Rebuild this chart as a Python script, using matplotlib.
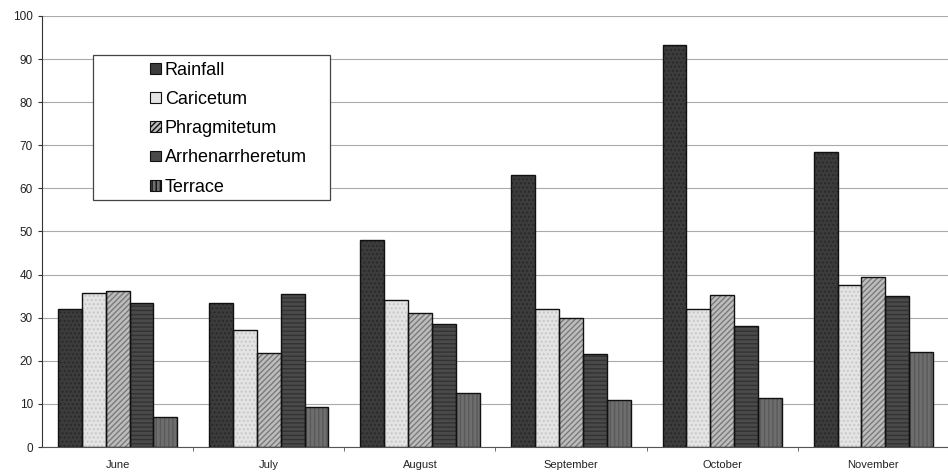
import matplotlib
matplotlib.use("Agg")
import matplotlib.pyplot as plt
from matplotlib.patches import Rectangle, Patch
import numpy as np

plt.rcParams["font.family"] = ["Liberation Sans", "DejaVu Sans"]

months = ["June", "July", "August", "September", "October", "November"]
series = ["Rainfall", "Caricetum", "Phragmitetum", "Arrhenarrheretum", "Terrace"]
rainfall = [32, 33.5, 48, 63, 93.2, 68.5]
caricetum = [35.8, 27.2, 34, 32, 32, 37.5]
phragmitetum = [36.2, 21.7, 31, 30, 35.3, 39.5]
arrhen = [33.5, 35.5, 28.5, 21.5, 28, 35]
terrace = [7, 9.3, 12.5, 10.8, 11.3, 22]
values = [rainfall, caricetum, phragmitetum, arrhen, terrace]

faces = ["#3c3c3c", "#e4e4e4", "#bdbdbd", "#4a4a4a", "#6e6e6e"]
hatches = ["....", "....", "//////", "----", "||||"]
hatch_cols = ["#2a2a2a", "#c8c8c8", "#7a7a7a", "#333333", "#5a5a5a"]

fig = plt.figure(figsize=(9.48, 4.73), dpi=100)
ax = fig.add_axes([42 / 948, 26 / 473, 910 / 948, 431 / 473])

x = np.arange(len(months))
w = 0.158
for i, (vals, fc, h, hc) in enumerate(zip(values, faces, hatches, hatch_cols)):
    pos = x + (i - 2) * w
    ax.bar(pos, vals, w, color=fc, linewidth=0, zorder=2)
    ax.bar(pos, vals, w, color="none", edgecolor=hc, hatch=h, linewidth=0, zorder=3)
    ax.bar(pos, vals, w, color="none", edgecolor="#111111", linewidth=1.0, zorder=4)

ax.set_xlim(-0.5, 5.52)
ax.set_ylim(0, 100)
ax.set_yticks(range(0, 101, 10))
ax.yaxis.grid(True, color="#aaaaaa", linewidth=0.8, zorder=0)
ax.set_axisbelow(True)
ax.tick_params(axis="y", labelsize=8.5, length=3, color="#333333", labelcolor="#222222")

ax.set_xticks(x)
ax.set_xticklabels(months)
ax.tick_params(axis="x", which="major", length=0, labelsize=8, pad=9, labelcolor="#222222")
ax.set_xticks(np.arange(0.5, 5.5, 1), minor=True)
ax.tick_params(axis="x", which="minor", length=3, direction="out", color="#555555")

for s in ["top", "right"]:
    ax.spines[s].set_visible(False)
ax.spines["left"].set_color("#333333")
ax.spines["bottom"].set_color("#555555")

# legend frame
ax.add_patch(Rectangle(((93 - 42) / 910, (447 - 200) / 431), 237 / 910, 145 / 431,
                       transform=ax.transAxes, facecolor="white", edgecolor="#444444",
                       linewidth=0.9, zorder=5))
handles = [Patch(facecolor=fc, edgecolor="#111111", hatch=h, linewidth=0.8)
           for fc, h in zip(faces, ["", "", "//////", "", "||||"])]
ax.legend(handles, series, loc="upper left",
          bbox_to_anchor=((146 - 42) / 910, (447 - 58) / 431),
          frameon=False, fontsize=13, handlelength=0.65, handleheight=0.55,
          handletextpad=0.2, labelspacing=0.68, borderaxespad=0, borderpad=0.2
          ).set_zorder(6)

fig.savefig("out.png", dpi=100, facecolor="white")
